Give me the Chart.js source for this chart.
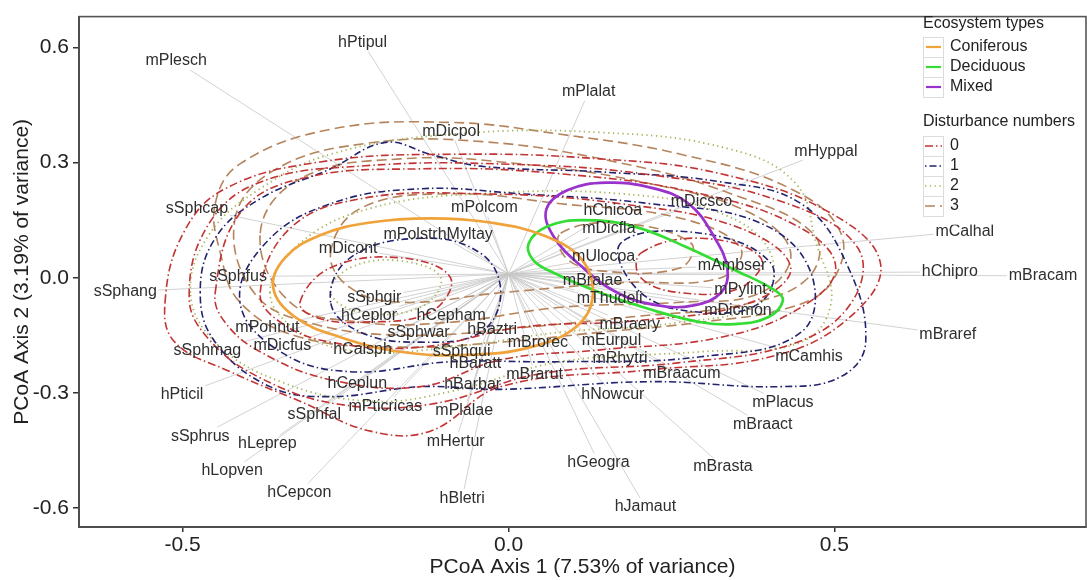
<!DOCTYPE html>
<html>
<head>
<meta charset="utf-8">
<script src="https://cdn.jsdelivr.net/npm/chart.js@4.4.1/dist/chart.umd.min.js"></script>
<style>
  html, body { margin: 0; padding: 0; background: #fff; }
  #wrap { width: 1087px; height: 580px; }
</style>
</head>
<body>
<div id="wrap"><canvas id="myChart" width="1087" height="580"></canvas></div>
<script>
var FONT = '"Liberation Sans", Arial, sans-serif';

// species scores (label positions)
var spNames = ['mPlesch','hPtipul','mPlalat','mDicpol','mHyppal','sSphcap','mPolcom','hChicoa','mDicsco','mDicfla',
  'mPolstrhMyltay','mDicont','mCalhal','mUlocoa','mAmbser','sSphfus','hChipro','mBracam','sSphang','mBralae',
  'mPylint','sSphgir','mThudeli','hCeplor','hCepham','mDicmon','mBraery','mBraref','mPohnut','hBaztri',
  'sSphwar','mDicfus','sSphmag','mEurpul','mBrorec','hCalsph','sSphqui','mRhytri','mCamhis','hBaratt',
  'mBrarut','mBraacum','hCeplun','hBarbar','hPticil','hNowcur','mPlacus','sSphfal','mPticricas','mPlalae',
  'mBraact','sSphrus','hLeprep','mHertur','hLopven','hGeogra','mBrasta','hCepcon','hBletri','hJamaut'];
var spX = [-0.510,-0.224,0.123,-0.088,0.487,-0.478,-0.037,0.160,0.296,0.154,
  -0.108,-0.246,0.700,0.146,0.343,-0.415,0.677,0.820,-0.588,0.129,
  0.356,-0.206,0.155,-0.214,-0.088,0.352,0.186,0.674,-0.370,-0.025,
  -0.138,-0.347,-0.462,0.158,0.045,-0.224,-0.072,0.171,0.461,-0.051,
  0.040,0.266,-0.232,-0.055,-0.501,0.160,0.421,-0.298,-0.189,-0.068,
  0.390,-0.473,-0.370,-0.081,-0.424,0.138,0.329,-0.321,-0.071,0.210];
var spY = [0.565,0.614,0.485,0.382,0.330,0.181,0.183,0.175,0.199,0.129,
  0.113,0.077,0.121,0.054,0.031,0.003,0.015,0.005,-0.036,-0.008,
  -0.031,-0.052,-0.054,-0.098,-0.098,-0.085,-0.121,-0.147,-0.129,-0.134,
  -0.144,-0.178,-0.191,-0.165,-0.170,-0.188,-0.193,-0.212,-0.206,-0.224,
  -0.253,-0.250,-0.276,-0.279,-0.304,-0.304,-0.325,-0.356,-0.335,-0.346,
  -0.382,-0.413,-0.433,-0.426,-0.503,-0.482,-0.493,-0.560,-0.575,-0.598];
var arrowOrigin = [0, 0.01];

var xTicks = [-0.5, 0, 0.5];
var yTicks = [-0.6, -0.3, 0, 0.3, 0.6];

// ecosystem type ellipses
var ecoNames = ['Coniferous', 'Deciduous', 'Mixed'];
var ecoColors = ['#f0a33a', '#33dd33', '#9933cc'];
var ellConiferous = [[-0.361,-0.026],[-0.343,0.052],[-0.289,0.111],[-0.212,0.144],[-0.120,0.155],[-0.028,0.144],
  [0.057,0.108],[0.114,0.044],[0.129,-0.052],[0.103,-0.129],[0.034,-0.181],[-0.058,-0.201],[-0.166,-0.193],
  [-0.258,-0.155],[-0.327,-0.103]];
var ellDeciduous = [[0.031,0.090],[0.060,0.134],[0.115,0.150],[0.192,0.134],[0.269,0.083],[0.346,0.021],
  [0.407,-0.031],[0.421,-0.059],[0.398,-0.103],[0.346,-0.121],[0.295,-0.116],[0.218,-0.083],[0.141,-0.039],
  [0.069,0.013],[0.038,0.046]];
var ellMixed = [[0.150,0.248],[0.218,0.235],[0.275,0.195],[0.315,0.108],[0.336,0.021],[0.326,-0.039],
  [0.284,-0.072],[0.229,-0.072],[0.167,-0.039],[0.111,0.031],[0.069,0.108],[0.058,0.178],[0.090,0.228]];

// disturbance density contours
var distNames = ['0', '1', '2', '3'];
var distColors = ['#c23434', '#23236e', '#a5b55a', '#b5845c'];
var distDash = [[8,3,1.5,3], [1.5,3,7,3], [1.3,3.5], [10,5]];
var contours0 = [
  [[-0.527,-0.064],[-0.499,0.116],[-0.435,0.232],[-0.289,0.302],[-0.089,0.322],[0.141,0.310],[0.326,0.271],
   [0.495,0.168],[0.571,0.034],[0.518,-0.111],[0.402,-0.206],[0.218,-0.240],[-0.012,-0.284],[-0.120,-0.400],
   [-0.212,-0.400],[-0.320,-0.322],[-0.427,-0.245],[-0.512,-0.168]],
  [[-0.490,-0.050],[-0.460,0.140],[-0.380,0.250],[-0.220,0.292],[0.000,0.296],[0.220,0.268],[0.420,0.198],
   [0.535,0.080],[0.528,-0.060],[0.440,-0.170],[0.260,-0.222],[0.050,-0.250],[-0.120,-0.330],[-0.260,-0.330],
   [-0.380,-0.262],[-0.460,-0.160]],
  [[-0.450,-0.039],[-0.412,0.168],[-0.320,0.258],[-0.135,0.284],[0.080,0.271],[0.295,0.219],[0.449,0.129],
   [0.502,0.026],[0.449,-0.077],[0.326,-0.155],[0.141,-0.188],[-0.012,-0.214],[-0.135,-0.284],[-0.273,-0.266],
   [-0.381,-0.193],[-0.435,-0.116]],
  [[-0.381,-0.039],[-0.335,0.129],[-0.227,0.206],[-0.043,0.219],[0.172,0.193],[0.356,0.129],[0.433,0.026],
   [0.372,-0.064],[0.203,-0.111],[0.018,-0.129],[-0.135,-0.181],[-0.273,-0.168],[-0.350,-0.116]],
  [[-0.320,-0.064],[-0.273,0.026],[-0.166,0.052],[-0.089,0.000],[-0.120,-0.090],[-0.227,-0.116],[-0.296,-0.103]],
  [[0.203,0.064],[0.295,0.103],[0.387,0.052],[0.356,-0.026],[0.264,-0.039],[0.203,0.000]]
];
var contours1 = [
  [[-0.473,-0.039],[-0.450,0.103],[-0.381,0.206],[-0.273,0.284],[-0.189,0.353],[-0.120,0.322],[-0.043,0.291],
   [0.141,0.276],[0.326,0.250],[0.449,0.193],[0.518,0.039],[0.548,-0.168],[0.510,-0.258],[0.418,-0.284],
   [0.218,-0.271],[-0.012,-0.291],[-0.135,-0.284],[-0.273,-0.310],[-0.366,-0.284],[-0.450,-0.168]],
  [[-0.412,-0.064],[-0.373,0.090],[-0.273,0.193],[-0.135,0.232],[0.018,0.219],[0.218,0.193],[0.387,0.142],
   [0.464,0.013],[0.449,-0.142],[0.295,-0.206],[0.080,-0.219],[-0.089,-0.219],[-0.243,-0.245],[-0.350,-0.193]],
  [[-0.273,-0.064],[-0.243,0.052],[-0.135,0.103],[-0.043,0.064],[-0.012,-0.039],[-0.043,-0.142],[-0.135,-0.168],
   [-0.227,-0.142]],
  [[0.172,0.090],[0.295,0.116],[0.402,0.039],[0.387,-0.064],[0.295,-0.090],[0.203,-0.039]]
];
var contours2 = [
  [[-0.488,-0.039],[-0.458,0.116],[-0.381,0.232],[-0.273,0.322],[-0.089,0.374],[0.141,0.379],[0.341,0.335],
   [0.441,0.245],[0.472,0.090],[0.495,-0.064],[0.449,-0.168],[0.295,-0.193],[0.080,-0.219],[-0.089,-0.297],
   [-0.212,-0.322],[-0.350,-0.271],[-0.450,-0.168]],
  [[-0.366,-0.039],[-0.320,0.090],[-0.212,0.181],[-0.043,0.219],[0.172,0.219],[0.326,0.168],[0.402,0.064],
   [0.387,-0.064],[0.264,-0.116],[0.080,-0.142],[-0.089,-0.181],[-0.227,-0.193],[-0.320,-0.142]],
  [[-0.273,-0.039],[-0.243,0.026],[-0.166,0.044],[-0.104,0.000],[-0.135,-0.077],[-0.227,-0.090]]
];
var contours3 = [
  [[-0.450,0.193],[-0.412,0.297],[-0.273,0.387],[-0.089,0.405],[0.080,0.374],[0.264,0.322],[0.433,0.232],
   [0.510,0.116],[0.495,-0.013],[0.433,-0.077],[0.295,-0.116],[0.141,-0.142],[-0.012,-0.168],[-0.166,-0.181],
   [-0.320,-0.155],[-0.412,-0.064],[-0.442,0.064]],
  [[-0.420,0.150],[-0.360,0.280],[-0.220,0.350],[-0.040,0.355],[0.170,0.300],[0.340,0.220],[0.470,0.110],
   [0.460,0.000],[0.360,-0.070],[0.200,-0.100],[0.020,-0.130],[-0.150,-0.150],[-0.300,-0.120],[-0.390,-0.040]],
  [[-0.381,0.116],[-0.320,0.258],[-0.166,0.310],[0.018,0.297],[0.218,0.245],[0.372,0.168],[0.433,0.064],
   [0.387,-0.039],[0.264,-0.064],[0.080,-0.077],[-0.089,-0.116],[-0.227,-0.116],[-0.335,-0.064]],
  [[-0.273,0.064],[-0.227,0.181],[-0.089,0.219],[0.080,0.193],[0.264,0.155],[0.356,0.077],[0.326,0.000],
   [0.172,-0.013],[-0.012,-0.039],[-0.166,-0.064],[-0.243,-0.026]],
  [[0.080,0.116],[0.172,0.142],[0.280,0.090],[0.264,0.026],[0.141,0.018],[0.088,0.052]]
];

function ring(pts) {
  return pts.map(function (p) { return { x: p[0], y: p[1] }; });
}

var datasets = [];
[contours0, contours1, contours2, contours3].forEach(function (group, g) {
  group.forEach(function (r) {
    datasets.push({
      data: ring(r), borderColor: distColors[g], borderWidth: g === 2 ? 1.8 : 1.6, borderDash: distDash[g],
      tension: 0.4, pointRadius: 0, fill: false, closed: true, order: 2
    });
  });
});
[ellConiferous, ellDeciduous, ellMixed].forEach(function (r, i) {
  datasets.push({
    data: ring(r), borderColor: ecoColors[i], borderWidth: 2.7,
    tension: 0.4, pointRadius: 0, fill: false, closed: true, order: 1
  });
});

// make the contour rings closed, smooth loops
var closeLoops = {
  id: 'closeLoops',
  afterDatasetUpdate: function (chart, args) {
    var ds = chart.data.datasets[args.index];
    if (ds.closed && args.meta.dataset) {
      args.meta.dataset._loop = true;
      args.meta.dataset._fullLoop = true;
    }
  }
};

// grey lines from the origin to every species label, then the labels
var spokes = {
  id: 'spokes',
  beforeDatasetsDraw: function (chart) {
    var c = chart.ctx, xs = chart.scales.x, ys = chart.scales.y, a = chart.chartArea;
    var ox = xs.getPixelForValue(arrowOrigin[0]), oy = ys.getPixelForValue(arrowOrigin[1]);
    c.save();
    c.beginPath(); c.rect(a.left, a.top, a.right - a.left, a.bottom - a.top); c.clip();
    c.font = '16px ' + FONT;
    c.strokeStyle = '#c6c6c6';
    c.lineWidth = 0.8;
    spNames.forEach(function (n, i) {
      var px = xs.getPixelForValue(spX[i]), py = ys.getPixelForValue(spY[i]);
      var hw = c.measureText(n).width / 2 + 2, hh = 9;
      var dx = px - ox, dy = py - oy;
      var t = Math.min(Math.abs(dx) > 0 ? hw / Math.abs(dx) : 1e9, Math.abs(dy) > 0 ? hh / Math.abs(dy) : 1e9, 1);
      c.beginPath();
      c.moveTo(ox, oy);
      c.lineTo(px - dx * t, py - dy * t);
      c.stroke();
    });
    c.restore();
  },
  afterDatasetsDraw: function (chart) {
    var c = chart.ctx, xs = chart.scales.x, ys = chart.scales.y;
    c.save();
    c.font = '16px ' + FONT;
    c.fillStyle = '#2e2e2e';
    c.textAlign = 'center';
    c.textBaseline = 'middle';
    spNames.forEach(function (n, i) {
      c.fillText(n, xs.getPixelForValue(spX[i]), ys.getPixelForValue(spY[i]));
    });
    c.restore();
  }
};

// panel frame and the two-part legend
var frameLegend = {
  id: 'frameLegend',
  afterDraw: function (chart) {
    var c = chart.ctx, a = chart.chartArea;
    c.save();
    c.strokeStyle = '#555';
    c.lineWidth = 1.6;
    c.strokeRect(a.left, a.top, a.right - a.left, a.bottom - a.top);

    var lx = 923, kw = 20, kh = 20;
    c.fillStyle = '#fff';
    c.fillRect(lx - 4, a.top + 2, a.right - lx + 2, 206);
    c.font = '16px ' + FONT;
    c.textBaseline = 'middle';
    c.textAlign = 'left';
    c.fillStyle = '#222';
    c.fillText('Ecosystem types', lx, 24);
    ecoNames.forEach(function (n, i) {
      var cy = 47 + i * 20;
      c.strokeStyle = '#dcdcdc'; c.lineWidth = 1; c.setLineDash([]);
      c.strokeRect(lx + 0.5, cy - kh / 2 + 0.5, kw, kh);
      c.strokeStyle = ecoColors[i]; c.lineWidth = 2.2;
      c.beginPath(); c.moveTo(lx + 3, cy); c.lineTo(lx + kw - 2, cy); c.stroke();
      c.fillStyle = '#222';
      c.fillText(n, lx + 27, cy);
    });
    c.fillText('Disturbance numbers', lx, 122);
    distNames.forEach(function (n, i) {
      var cy = 146 + i * 20;
      c.strokeStyle = '#dcdcdc'; c.lineWidth = 1; c.setLineDash([]);
      c.strokeRect(lx + 0.5, cy - kh / 2 + 0.5, kw, kh);
      c.strokeStyle = distColors[i]; c.lineWidth = 1.5; c.setLineDash(distDash[i]);
      c.beginPath(); c.moveTo(lx + 2, cy); c.lineTo(lx + kw - 1, cy); c.stroke();
      c.setLineDash([]);
      c.fillStyle = '#222';
      c.fillText(n, lx + 27, cy);
    });
    c.restore();
  }
};

var ctx = document.getElementById('myChart');
var myChart = new Chart(ctx, {
  type: 'line',
  data: { datasets: datasets },
  plugins: [closeLoops, spokes, frameLegend],
  options: {
    responsive: false,
    animation: false,
    events: [],
    devicePixelRatio: 1,
    layout: { padding: { top: 11, right: 1, left: 0, bottom: 0 } },
    plugins: { legend: { display: false }, tooltip: { enabled: false } },
    scales: {
      x: {
        type: 'linear', min: -0.659, max: 0.886,
        afterBuildTicks: function (s) { s.ticks = xTicks.map(function (v) { return { value: v }; }); },
        afterFit: function (s) { s.height = 53; },
        ticks: {
          callback: function (v) { return v.toFixed(1); },
          font: { family: FONT, size: 21 }, color: '#222', padding: 1, maxRotation: 0, autoSkip: false
        },
        grid: { drawOnChartArea: false, drawTicks: true, tickLength: 5, color: '#333', lineWidth: 1.5 },
        border: { display: true, color: '#333', width: 2 },
        title: {
          display: true, text: 'PCoA Axis 1 (7.53% of variance)',
          font: { family: FONT, size: 21 }, color: '#222', padding: { top: 0, bottom: 0 }
        }
      },
      y: {
        type: 'linear', min: -0.650, max: 0.681,
        afterBuildTicks: function (s) { s.ticks = yTicks.map(function (v) { return { value: v }; }); },
        afterFit: function (s) { s.width = 79; },
        ticks: {
          callback: function (v) { return v.toFixed(1); },
          font: { family: FONT, size: 21 }, color: '#222', padding: 4, autoSkip: false
        },
        grid: { drawOnChartArea: false, drawTicks: true, tickLength: 6, color: '#333', lineWidth: 1.5 },
        border: { display: true, color: '#333', width: 2 },
        title: {
          display: true, text: 'PCoA Axis 2 (3.19% of variance)',
          font: { family: FONT, size: 21 }, color: '#222', padding: { top: 10, bottom: 0 }
        }
      }
    }
  }
});
</script>
</body>
</html>
